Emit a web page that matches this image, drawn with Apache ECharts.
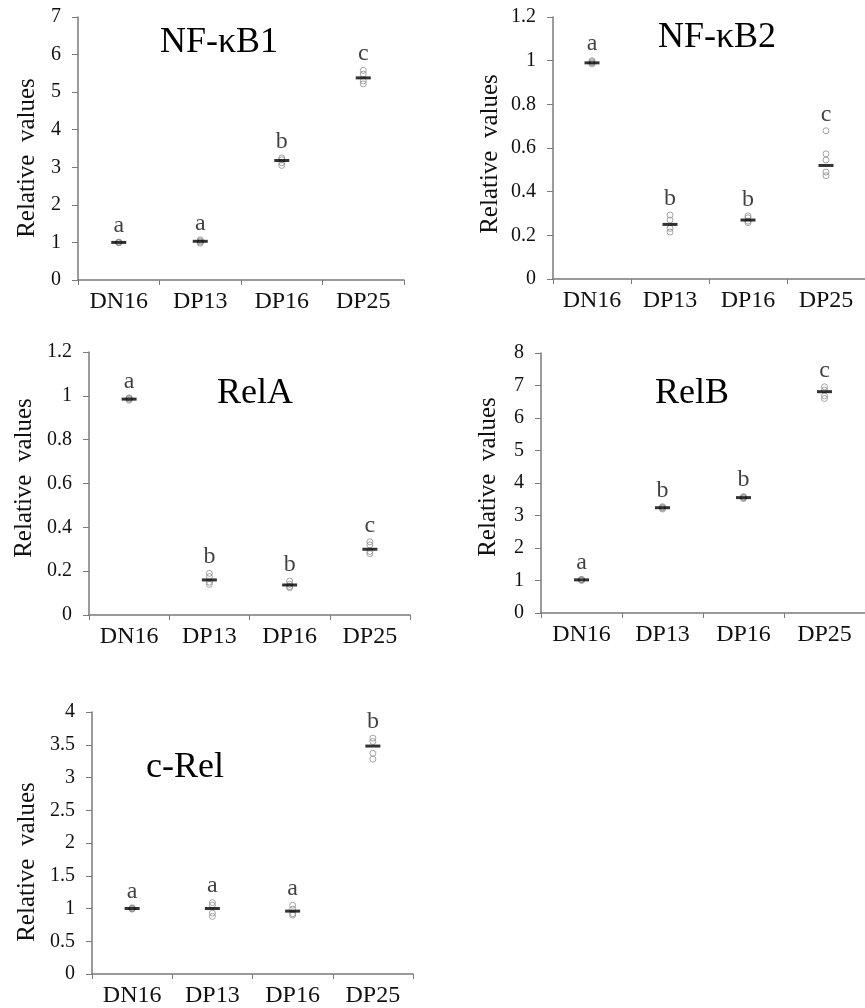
<!DOCTYPE html>
<html><head><meta charset="utf-8">
<script src="https://cdn.jsdelivr.net/npm/echarts@6/dist/echarts.min.js"></script>
<style>html,body{margin:0;padding:0;background:#fff}#c{width:865px;height:1008px}</style>
</head><body><div id="c"></div>
<script>
const categories = ['DN16', 'DP13', 'DP16', 'DP25'];

const nfkb1Means = [1.0, 1.03, 3.18, 5.38];
const nfkb1Dots = [[0.99, 1.0, 1.0, 1.01], [0.98, 1.01, 1.04, 1.07], [3.05, 3.12, 3.2, 3.25], [5.22, 5.3, 5.48, 5.58]];
const nfkb1Letters = ['a', 'a', 'b', 'c'];

const nfkb2Means = [0.99, 0.25, 0.27, 0.52];
const nfkb2Dots = [[0.985, 0.99, 0.995, 1.0], [0.215, 0.232, 0.27, 0.293], [0.258, 0.265, 0.28, 0.289], [0.473, 0.49, 0.545, 0.573, 0.679]];
const nfkb2Letters = ['a', 'b', 'b', 'c'];

const relaMeans = [0.985, 0.16, 0.137, 0.30];
const relaDots = [[0.98, 0.985, 0.99, 0.99], [0.14, 0.15, 0.175, 0.19], [0.125, 0.13, 0.14, 0.155], [0.28, 0.29, 0.32, 0.334]];
const relaLetters = ['a', 'b', 'b', 'c'];

const relbMeans = [1.02, 3.24, 3.55, 6.81];
const relbDots = [[1.0, 1.02, 1.03, 1.03], [3.2, 3.23, 3.25, 3.27], [3.52, 3.55, 3.56, 3.58], [6.6, 6.68, 6.86, 6.96]];
const relbLetters = ['a', 'b', 'b', 'c'];

const crelMeans = [1.0, 1.0, 0.96, 3.48];
const crelDots = [[0.99, 1.0, 1.0, 1.01], [0.88, 0.93, 1.05, 1.09], [0.9, 0.92, 0.99, 1.05], [3.28, 3.37, 3.55, 3.6]];
const crelLetters = ['a', 'a', 'a', 'b'];

const yMaxes = [7, 1.2, 1.2, 8, 4];
const yIntervals = [1, 0.2, 0.2, 1, 0.5];
const titles = ['NF-κB1', 'NF-κB2', 'RelA', 'RelB', 'c-Rel'];
const yName = 'Relative  values';

const FONT = '"Liberation Serif", "Times New Roman", serif';
const AXIS = '#7a7a7a';

const panels = [
  { means: nfkb1Means, dots: nfkb1Dots, letters: nfkb1Letters,
    grid: { left: 78, top: 17, width: 326, height: 263 }, titlePos: [219, 43], namePos: [27, 158] },
  { means: nfkb2Means, dots: nfkb2Dots, letters: nfkb2Letters,
    grid: { left: 553, top: 17, width: 321, height: 262 }, titlePos: [717, 38], namePos: [490, 154] },
  { means: relaMeans, dots: relaDots, letters: relaLetters,
    grid: { left: 89, top: 352, width: 321, height: 263 }, titlePos: [255, 394], namePos: [24, 478] },
  { means: relbMeans, dots: relbDots, letters: relbLetters,
    grid: { left: 541, top: 353, width: 331, height: 260 }, titlePos: [692, 394], namePos: [488, 477] },
  { means: crelMeans, dots: crelDots, letters: crelLetters,
    grid: { left: 92, top: 712, width: 321, height: 263 }, titlePos: [185, 768], namePos: [27, 862] }
];

const grids = [], xAxes = [], yAxes = [], series = [], graphics = [];

panels.forEach((p, k) => {
  grids.push(Object.assign({ containLabel: false }, p.grid));
  xAxes.push({
    type: 'category', gridIndex: k, data: categories, boundaryGap: true,
    axisLine: { lineStyle: { color: AXIS, width: 1.5 } },
    axisTick: { show: true, alignWithLabel: false, length: 5, lineStyle: { color: AXIS } },
    axisLabel: { fontFamily: FONT, fontSize: 24, color: '#111', margin: 10, interval: 0 },
    splitLine: { show: false }
  });
  yAxes.push({
    type: 'value', gridIndex: k, min: 0, max: yMaxes[k], interval: yIntervals[k],
    axisLine: { show: true, lineStyle: { color: AXIS, width: 1.5 } },
    axisTick: { show: true, length: 6, lineStyle: { color: AXIS } },
    axisLabel: { fontFamily: FONT, fontSize: 20, color: '#111', margin: 17 },
    splitLine: { show: false }
  });

  const dotData = [];
  p.dots.forEach((arr, i) => arr.forEach(v => dotData.push([categories[i], v])));
  series.push({
    type: 'scatter', xAxisIndex: k, yAxisIndex: k, data: dotData,
    symbol: 'circle', symbolSize: 6, z: 2, silent: true,
    itemStyle: { color: 'rgba(255,255,255,0)', borderColor: '#8f8f8f', borderWidth: 1 }
  });
  series.push({
    type: 'scatter', xAxisIndex: k, yAxisIndex: k,
    data: p.means.map((v, i) => [categories[i], v]),
    symbol: 'rect', symbolSize: [15, 3], z: 3, silent: true,
    itemStyle: { color: '#000' }
  });
  series.push({
    type: 'scatter', xAxisIndex: k, yAxisIndex: k,
    data: p.means.map((v, i) => ({
      value: [categories[i], Math.max(v, ...p.dots[i])],
      label: { formatter: p.letters[i] }
    })),
    symbol: 'circle', symbolSize: 1, z: 4, silent: true,
    itemStyle: { color: 'rgba(0,0,0,0)' },
    label: { show: true, position: 'top', distance: 4, fontFamily: FONT, fontSize: 24, color: '#111' }
  });

  graphics.push({
    type: 'text', x: p.titlePos[0], y: p.titlePos[1],
    style: { text: titles[k], font: '36px ' + FONT, fill: '#000', textAlign: 'center', textVerticalAlign: 'middle' }
  });
  graphics.push({
    type: 'text', x: p.namePos[0], y: p.namePos[1], rotation: Math.PI / 2,
    style: { text: yName, font: '25px ' + FONT, fill: '#111', textAlign: 'center', textVerticalAlign: 'middle' }
  });
});

const chart = echarts.init(document.getElementById('c'), null, { renderer: 'canvas' });
chart.setOption({
  backgroundColor: '#fff',
  animation: false,
  grid: grids, xAxis: xAxes, yAxis: yAxes, series: series, graphic: graphics
});
</script></body></html>
